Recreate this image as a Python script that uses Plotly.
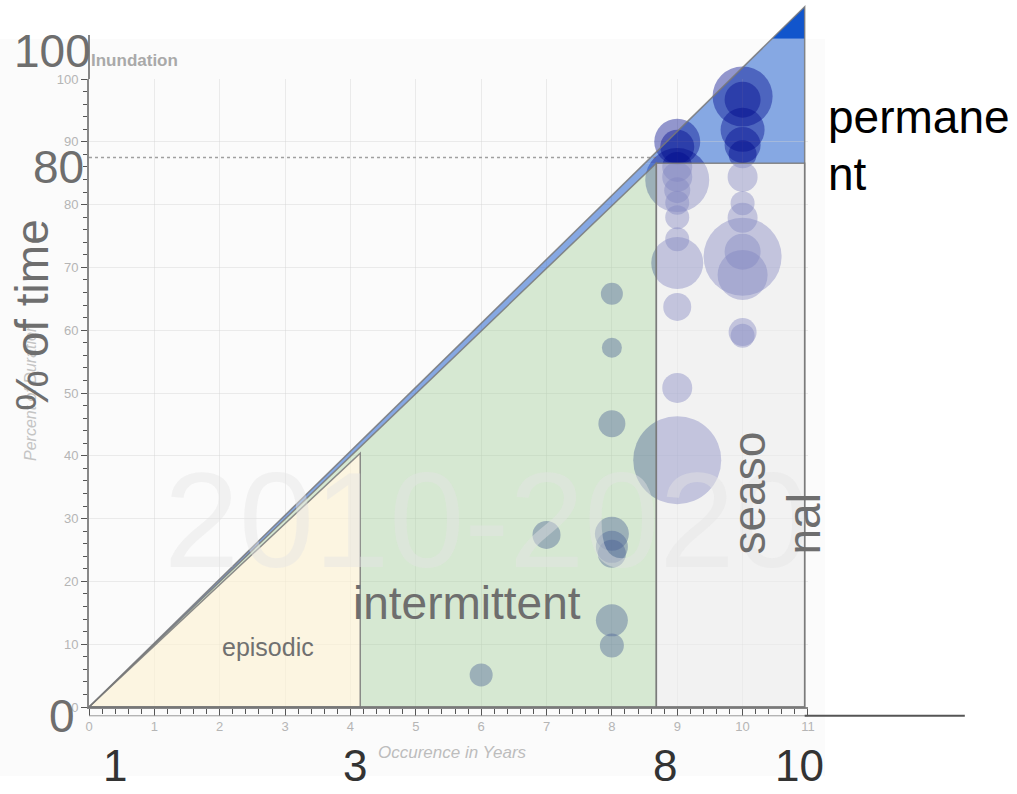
import plotly.graph_objects as go

# ---------------- data ----------------
bubble_years = [6, 7,
                8, 8, 8, 8, 8, 8, 8, 8,
                9, 9, 9, 9, 9, 9, 9, 9, 9, 9, 9, 9, 9,
                10, 10, 10, 10, 10, 10, 10, 10, 10, 10, 10, 10, 10]
bubble_percent = [5.1, 27.4,
                  65.8, 57.2, 45.1, 27.6, 25.5, 24.4, 13.8, 9.8,
                  90.0, 89.2, 86.0, 83.9, 84.4, 82.3, 80.3, 78.0, 74.5, 70.7, 63.7, 50.8, 39.3,
                  97.2, 96.7, 91.9, 89.5, 88.0, 84.4, 80.2, 77.9, 72.5, 71.7, 68.8, 59.7, 59.1]
bubble_weight = [23, 28,
                 22, 20, 27, 34, 32, 28, 32, 24,
                 46, 34, 30, 64, 30, 26, 24, 24, 24, 52, 28, 30, 88,
                 60, 36, 44, 36, 28, 30, 24, 30, 36, 78, 50, 28, 24]

# class boundaries (years, % of time)
episodic_years, episodic_pct = 4.15, 40.4
intermittent_years, intermittent_pct = 8.68, 86.6
seasonal_years = 10.95
permanent_apex_pct = 111.5
reference_line_pct = 87.5

x_tick_values = list(range(0, 12))
y_tick_values = list(range(0, 101, 10))
watermark = "2010-2020"

# ---------------- layout constants ----------------
W, H = 1017, 794
FONT = "Liberation Sans, Arial, sans-serif"
PX_X0, PX_PER_YEAR = 89, 65.36
PX_Y0, PX_PER_PCT = 707, 6.28
PANEL_TOP_PCT = 106.4
X_MAX, Y_MAX = 11, 100

full_xr = [-PX_X0 / PX_PER_YEAR, (W - PX_X0) / PX_PER_YEAR]
full_yr = [-(H - PX_Y0) / PX_PER_PCT, PX_Y0 / PX_PER_PCT]
inner_xd = [PX_X0 / W, (PX_X0 + X_MAX * PX_PER_YEAR) / W]
inner_yd = [(H - PX_Y0) / H, (H - PX_Y0 + Y_MAX * PX_PER_PCT) / H]


def pxx(px):
    return px / W


def pxy(py):
    return 1 - py / H


fig = go.Figure()

# reference dotted line
fig.add_trace(go.Scatter(
    x=[0, intermittent_years], y=[reference_line_pct, reference_line_pct],
    xaxis="x2", yaxis="y2", mode="lines", hoverinfo="skip",
    line=dict(color="#a0a0a0", width=1.5, dash="dot"), showlegend=False))

# bubbles
fig.add_trace(go.Scatter(
    x=bubble_years, y=bubble_percent, xaxis="x2", yaxis="y2",
    mode="markers", cliponaxis=False, showlegend=False,
    marker=dict(size=bubble_weight, sizemode="diameter", sizeref=1,
                color="rgba(0,10,140,0.6)", line=dict(width=0))))


def path(pts):
    return "M " + " L ".join(f"{x},{y}" for x, y in pts) + " Z"


slope_blue = permanent_apex_pct / seasonal_years
blue_top_x = PANEL_TOP_PCT / slope_blue
blue_low_x = intermittent_pct / slope_blue
BLUE_T = "rgba(17,85,204,0.5)"

shapes = []
# screenshot panel background
shapes.append(dict(type="rect", xref="paper", yref="paper", layer="below",
                   x0=0, x1=pxx(825), y0=pxy(776), y1=pxy(39),
                   fillcolor="#fbfbfb", line=dict(width=0)))
# permanent zone block, drawn under the bubbles
shapes.append(dict(type="path", xref="x", yref="y", layer="below",
                   path=path([(blue_low_x, intermittent_pct), (blue_top_x, PANEL_TOP_PCT),
                              (seasonal_years, PANEL_TOP_PCT), (seasonal_years, intermittent_pct)]),
                   fillcolor=BLUE_T, line=dict(width=0)))
# y axis extension
shapes.append(dict(type="line", xref="x", yref="y", layer="below",
                   x0=0, x1=0, y0=Y_MAX, y1=107, line=dict(color="#888", width=2)))

fills = [
    # thin permanent strip along the diagonal
    ([(0, 0), (blue_low_x, intermittent_pct), (intermittent_years, intermittent_pct)], BLUE_T),
    # permanent tip above the panel
    ([(blue_top_x, PANEL_TOP_PCT), (seasonal_years, permanent_apex_pct),
      (seasonal_years, PANEL_TOP_PCT)], "#1155cc"),
    # intermittent
    ([(0, 0), (intermittent_years, intermittent_pct), (intermittent_years, 0),
      (episodic_years, 0), (episodic_years, episodic_pct)], "rgba(168,208,159,0.45)"),
    # episodic
    ([(0, 0), (episodic_years, 0), (episodic_years, episodic_pct)], "rgba(254,242,209,0.6)"),
    # seasonal
    ([(intermittent_years, 0), (seasonal_years, 0), (seasonal_years, intermittent_pct),
      (intermittent_years, intermittent_pct)], "rgba(235,235,235,0.55)"),
]
for pts, col in fills:
    shapes.append(dict(type="path", xref="x", yref="y", layer="above", path=path(pts),
                       fillcolor=col, line=dict(width=0)))

outlines = [
    [(0, 0), (seasonal_years, permanent_apex_pct), (seasonal_years, 0)],
    [(0, 0), (intermittent_years, intermittent_pct), (intermittent_years, 0)],
    [(0, 0), (episodic_years, episodic_pct), (episodic_years, 0)],
    [(intermittent_years, 0), (intermittent_years, intermittent_pct),
     (seasonal_years, intermittent_pct), (seasonal_years, 0)],
]
for pts in outlines:
    shapes.append(dict(type="path", xref="x", yref="y", layer="above", path=path(pts),
                       fillcolor="rgba(0,0,0,0)", line=dict(color="rgba(120,120,120,0.85)", width=1.5)))

# ruler line under x axis and its extension
shapes.append(dict(type="line", xref="x", yref="y", layer="above",
                   x0=0, x1=X_MAX, y0=-1.4, y1=-1.4, line=dict(color="#999", width=1)))
shapes.append(dict(type="line", xref="x", yref="y", layer="above",
                   x0=seasonal_years, x1=13.4, y0=-1.4, y1=-1.4, line=dict(color="#555", width=2)))


def ann(text, px, py, size, color, angle=0, xa="center", ya="middle", italic=False, bold=False):
    return dict(text=text, x=pxx(px), y=pxy(py), xref="paper", yref="paper",
                showarrow=False, xanchor=xa, yanchor=ya, textangle=angle,
                font=dict(family=FONT, size=size, color=color,
                          style="italic" if italic else "normal",
                          weight="bold" if bold else "normal"))


GRAY = "#6e6e6e"
annotations = [
    ann(watermark, 487, 520, 135, "rgba(228,228,228,0.45)"),
    ann("Inundation", 89, 61, 17, "#a9a9a9", xa="left", bold=True),
    ann("Percent of Duration", 30, 392, 16, "#c4c4c4", angle=-90, italic=True),
    ann("Occurence in Years", 452, 752, 17, "#bdbdbd", italic=True),
    ann("100", 52, 51, 46, GRAY),
    ann("80", 58, 167, 46, GRAY),
    ann("0", 62, 716, 46, GRAY),
    ann("% of time", 32, 315, 46, GRAY, angle=-90),
    ann("1", 115, 765, 44, "#333"),
    ann("3", 355, 765, 44, "#333"),
    ann("8", 665, 765, 44, "#333"),
    ann("10", 799, 765, 44, "#333"),
    ann("permane", 826, 117, 46, "#000", xa="left"),
    ann("nt", 826, 174, 46, "#000", xa="left"),
    ann("seaso", 748, 557, 46, GRAY, angle=-90, ya="bottom"),
    ann("nal", 803, 557, 46, GRAY, angle=-90, ya="bottom"),
    ann("intermittent", 467, 603, 46, GRAY),
    ann("episodic", 268, 647, 25, "#707070"),
]

tickfont = dict(family=FONT, size=13, color="#b5b5b5")
GRID = "rgba(210,210,210,0.4)"
fig.update_layout(
    width=W, height=H, margin=dict(l=0, r=0, t=0, b=0, pad=0, autoexpand=False),
    paper_bgcolor="white", plot_bgcolor="rgba(0,0,0,0)",
    showlegend=False, shapes=shapes, annotations=annotations,
    xaxis=dict(domain=[0, 1], range=full_xr, visible=False, fixedrange=True, automargin=False),
    yaxis=dict(domain=[0, 1], range=full_yr, visible=False, fixedrange=True, automargin=False),
    xaxis2=dict(domain=inner_xd, range=[0, X_MAX], anchor="y2", automargin=False,
                tickvals=x_tick_values, ticks="outside", ticklen=7, tickcolor="#555",
                showline=True, linecolor="#888", linewidth=1.5,
                showgrid=True, gridcolor=GRID, zeroline=False, tickfont=tickfont,
                minor=dict(dtick=0.2, ticks="outside", ticklen=5, tickcolor="#555", showgrid=False)),
    yaxis2=dict(domain=inner_yd, range=[0, Y_MAX], anchor="x2", automargin=False,
                tickvals=y_tick_values, ticks="outside", ticklen=6, tickcolor="#555",
                showline=True, linecolor="#888", linewidth=2,
                showgrid=True, gridcolor=GRID, zeroline=False, tickfont=tickfont,
                minor=dict(dtick=2, ticks="outside", ticklen=4, tickcolor="#555", showgrid=False)),
)

fig.write_html("out.html", config={"displayModeBar": False},
               post_script="document.body.style.margin='0';document.body.style.overflow='hidden';")
